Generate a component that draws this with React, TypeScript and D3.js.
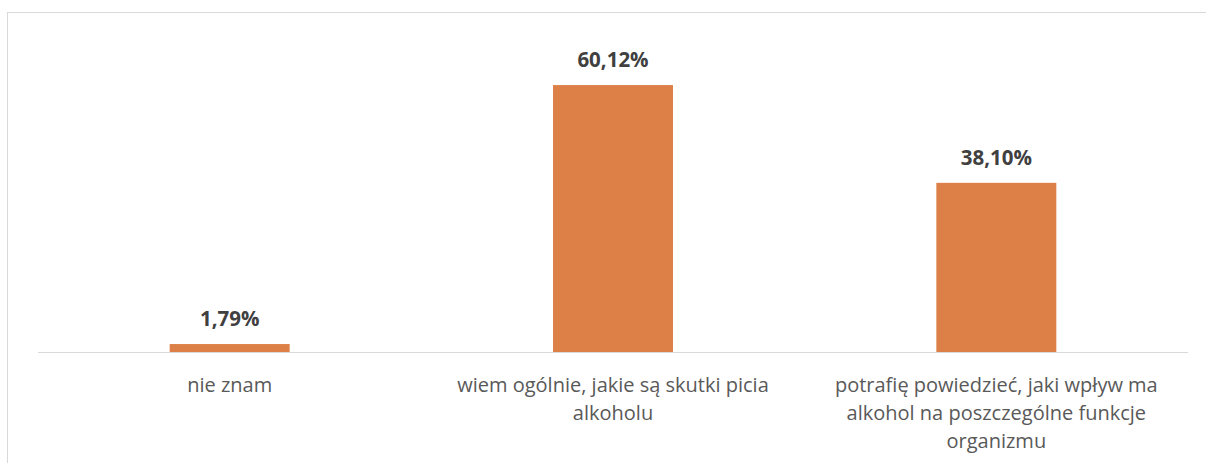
import React, { useEffect, useRef } from "react";
import * as d3 from "d3";

const categories = [
  "nie znam",
  "wiem ogólnie, jakie są skutki picia alkoholu",
  "potrafię powiedzieć, jaki wpływ ma alkohol na poszczególne funkcje organizmu",
];
const values = [1.79, 60.12, 38.1];
const valueLabels = ["1,79%", "60,12%", "38,10%"];

const W = 1206;
const H = 463;

export default function App() {
  const ref = useRef<SVGSVGElement>(null);

  useEffect(() => {
    const svg = d3.select(ref.current);
    svg.selectAll("*").remove();

    const x0 = 38, x1 = 1188, baseY = 352;
    const pxPerPct = 4.44;
    const y = d3.scaleLinear().domain([0, 70]).range([baseY, baseY - 70 * pxPerPct]);
    const x = d3.scaleBand<string>().domain(categories).range([x0, x1]).paddingInner(0.687).paddingOuter(0.3435);

    svg.append("rect")
      .attr("x", 7.5).attr("y", 12.5).attr("width", 1400).attr("height", 1000)
      .attr("fill", "#fff").attr("stroke", "#d9d9d9").attr("stroke-width", 1);

    svg.append("g").selectAll("rect").data(values).join("rect")
      .attr("x", (_, i) => x(categories[i])!)
      .attr("width", x.bandwidth())
      .attr("y", (d) => y(d))
      .attr("height", (d) => baseY - y(d))
      .attr("fill", "#DD8048");

    svg.append("line")
      .attr("x1", x0).attr("x2", x1).attr("y1", baseY + 0.5).attr("y2", baseY + 0.5)
      .attr("stroke", "#d9d9d9").attr("stroke-width", 1);

    svg.append("g").selectAll("text").data(values).join("text")
      .attr("x", (_, i) => x(categories[i])! + x.bandwidth() / 2)
      .attr("y", (d) => y(d) - 18)
      .attr("text-anchor", "middle")
      .attr("font-family", "'Open Sans', sans-serif")
      .attr("font-weight", "bold")
      .attr("font-size", 20.5)
      .attr("fill", "#404040")
      .text((_, i) => valueLabels[i]);

    const maxW = 360;
    const g = svg.append("g");
    categories.forEach((c) => {
      const cx = x(c)! + x.bandwidth() / 2;
      const t = g.append("text")
        .attr("text-anchor", "middle")
        .attr("font-family", "'Open Sans', sans-serif")
        .attr("font-size", 20)
        .attr("fill", "#595959");
      const words = c.split(" ");
      const lines: string[] = [];
      let cur = "";
      const probe = t.append("tspan");
      words.forEach((w) => {
        const test = cur ? cur + " " + w : w;
        probe.text(test);
        if ((probe.node() as SVGTSpanElement).getComputedTextLength() > maxW && cur) {
          lines.push(cur);
          cur = w;
        } else cur = test;
      });
      if (cur) lines.push(cur);
      probe.remove();
      lines.forEach((l, i) => {
        t.append("tspan").attr("x", cx).attr("y", baseY + 40 + i * 28).text(l);
      });
    });
  }, []);

  return (
    <svg
      ref={ref}
      width={W}
      height={H}
      style={{ position: "absolute", left: 0, top: 0, background: "#fff" }}
    />
  );
}
